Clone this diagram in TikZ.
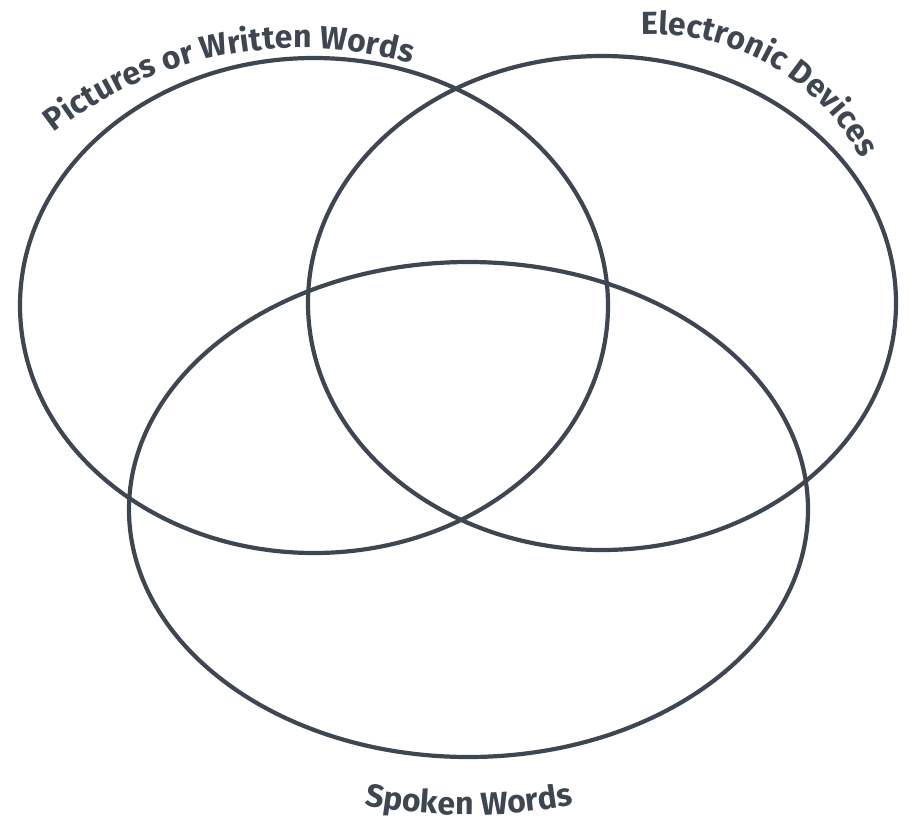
\documentclass[tikz,border=0pt]{standalone}
\usepackage{fontspec}
\newfontfamily\lab{Fira Sans}
\usetikzlibrary{shapes.geometric,decorations.text,calc}
\definecolor{ink}{RGB}{62,70,81}
\begin{document}
\begin{tikzpicture}[x=1pt,y=1pt,
  ring/.style={draw=ink, line width=4.2pt, ellipse, inner sep=0pt, outer sep=0pt},
  arclabel/.style={decorate, decoration={text along path, text align=center,
     text color=ink, text={#1}}}]
\useasboundingbox (0,0) rectangle (909,-819);
\node[ring, minimum width=588pt, minimum height=495pt] (e1) at (314,-305.5) {};
\node[ring, minimum width=588pt, minimum height=494pt] (e2) at (602,-303) {};
\node[ring, minimum width=679pt, minimum height=495pt] (e3) at (468.5,-509.5) {};
\coordinate (c1) at (300,-446);
\coordinate (c2) at (652,-272);
\coordinate (c3) at (469,-266);
\path[arclabel={|\lab\bfseries\fontsize{32}{34}\selectfont|Pictures or Written Words}]
  ($(c1)+(141:398)$) arc[start angle=141, end angle=61, radius=398];
\path[arclabel={|\lab\bfseries\fontsize{32}{34}\selectfont|Electronic Devices}]
  ($(c2)+(100:238)$) arc[start angle=100, end angle=21, radius=238];
\path[arclabel={|\lab\bfseries\fontsize{32}{34}\selectfont|Spoken Words}]
  ($(c3)+(250:549)$) arc[start angle=250, end angle=290, radius=549];
\end{tikzpicture}
\end{document}
